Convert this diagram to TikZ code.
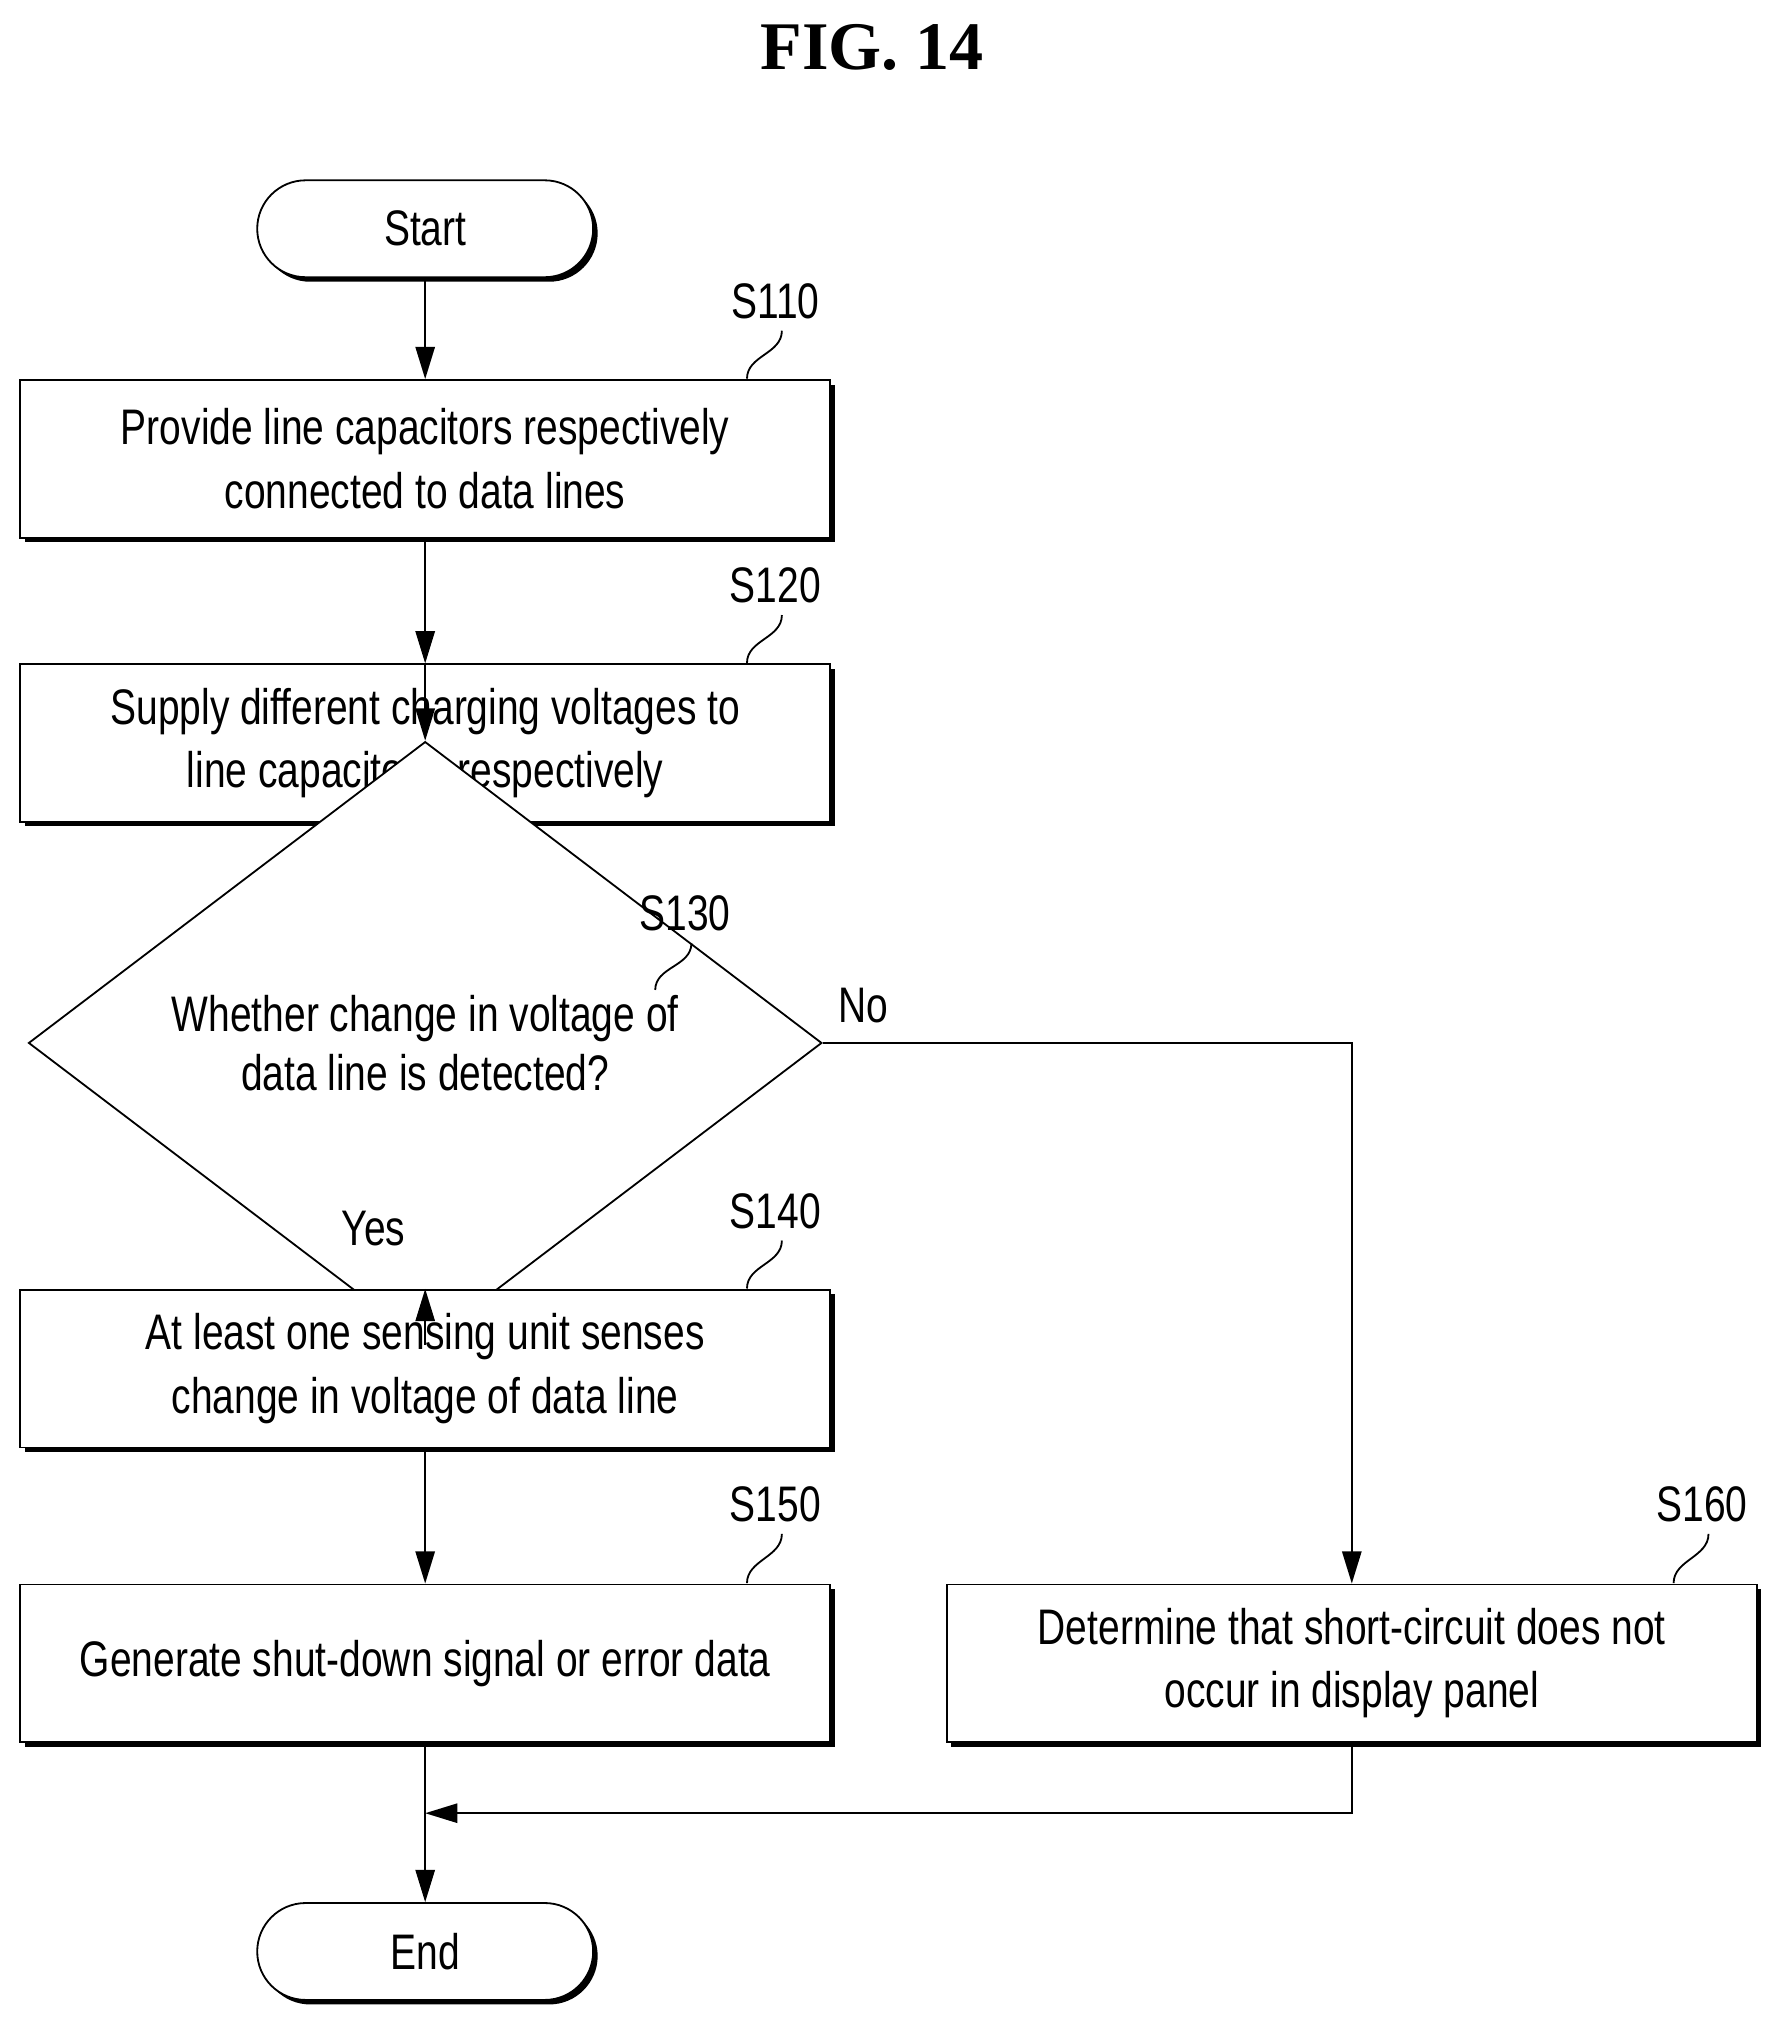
\documentclass[tikz,border=0pt]{standalone}
\usepackage{fontspec}
\setmainfont[FakeStretch=0.78]{Liberation Sans}
\newfontfamily\titlefont{Liberation Serif}
\usetikzlibrary{shapes.geometric}
\usetikzlibrary{shadows}
\usetikzlibrary{arrows.meta}

\tikzset{
  stepbox/.style={draw, thick, fill=white, minimum width=12.54cm, minimum height=2.44cm,
    align=center, font=\fontsize{22}{28}\selectfont,
    drop shadow={shadow xshift=0.07cm, shadow yshift=-0.07cm, opacity=1, fill=black}},
  term/.style={stepbox, rounded corners=0.75cm, minimum width=5.2cm, minimum height=1.5cm},
  flow/.style={thick, -{Triangle[length=0.5cm, width=0.3cm]}},
  tag/.style={font=\fontsize{22}{26}\selectfont},
}

\begin{document}
\begin{tikzpicture}[x=0.02cm, y=-0.02cm]
\useasboundingbox (0,0) rectangle (1380,1570);
\node [font=\fontsize{30}{34}\selectfont\titlefont\bfseries] (title) at (675,37) {FIG. 14};
%%%%%%%%%
\node [term] (start) at (329,177) {Start};
\node [stepbox] (s110) at (329,355) {Provide line capacitors respectively\\connected to data lines};
\node [stepbox] (s120) at (329,575) {Supply different charging voltages to\\line capacitors, respectively};
\node [draw, thick, fill=white, diamond, inner sep=0pt, minimum width=12.28cm, minimum height=3.7cm,
  align=center, font=\fontsize{22}{26}\selectfont] (s130) at (329,807)
  {Whether change in voltage of\\data line is detected?};
\node [stepbox] (s140) at (329,1059) {At least one sensing unit senses\\change in voltage of data line};
\node [stepbox] (s150) at (329,1287) {Generate shut-down signal or error data};
\node [stepbox] (s160) at (1046,1287) {Determine that short-circuit does not\\occur in display panel};
\node [term] (end) at (329,1510) {End};
%%%%%%%%%
\node [tag] (t110) at (600,233) {S110};
\node [tag] (t120) at (600,453) {S120};
\node [tag] (t130) at (530,707) {S130};
\node [tag] (t140) at (600,937) {S140};
\node [tag] (t150) at (600,1164) {S150};
\node [tag] (t160) at (1317,1164) {S160};
\node [tag] (no) at (668,778) {No};
\node [tag] (yes) at (289,951) {Yes};
\draw [thick] (t110.south) ++(5,3) .. controls +(0,18) and +(0,-18) .. (578,293);
\draw [thick] (t120.south) ++(5,3) .. controls +(0,18) and +(0,-18) .. (578,513);
\draw [thick] (t130.south) ++(5,3) .. controls +(0,18) and +(0,-18) .. (507,766);
\draw [thick] (t140.south) ++(5,3) .. controls +(0,18) and +(0,-18) .. (578,997);
\draw [thick] (t150.south) ++(5,3) .. controls +(0,18) and +(0,-18) .. (578,1225);
\draw [thick] (t160.south) ++(5,3) .. controls +(0,18) and +(0,-18) .. (1295,1225);
%%%%%%%%%
\draw [flow] (start) -- (s110);
\draw [flow] (s110) -- (s120);
\draw [flow] (s120) -- (s130);
\draw [flow] (s130) -- (s140);
\draw [flow] (s140) -- (s150);
\draw [flow] (s150) -- (end);
\draw [flow] (s130.east) -| (s160.north);
\coordinate (join) at (329,1403);
\draw [flow] (s160.south) |- (join);
\end{tikzpicture}
\end{document}
